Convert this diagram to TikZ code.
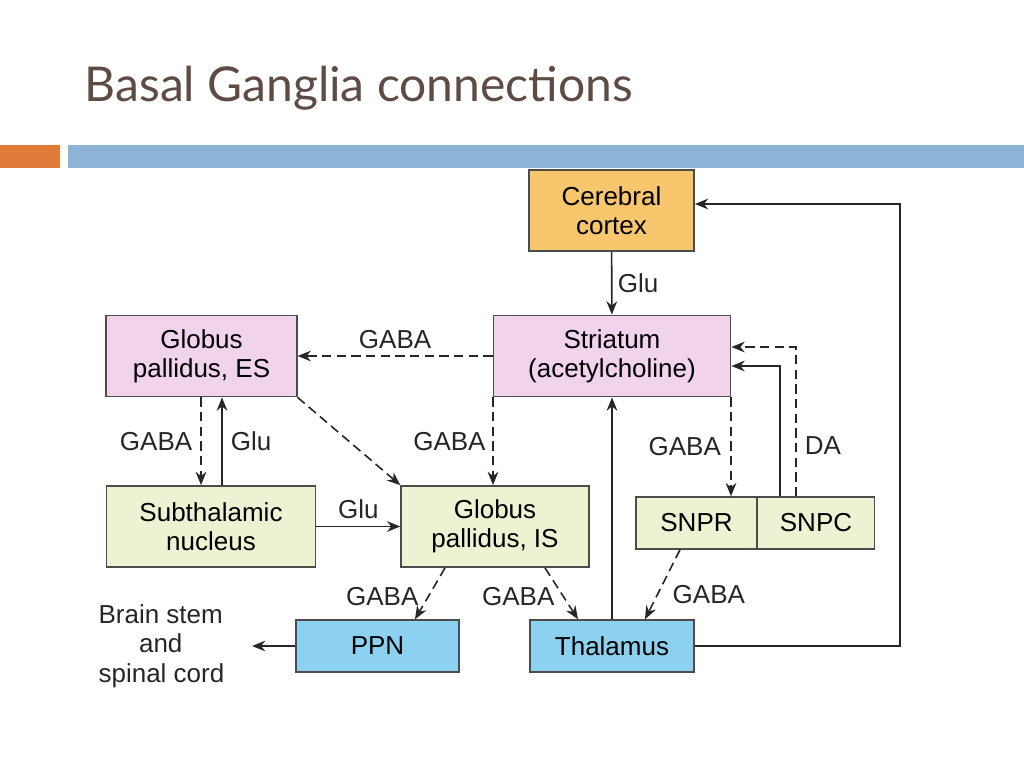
\documentclass[tikz,border=0pt]{standalone}
\usepackage{fontspec}
\setmainfont{Liberation Sans}
\newfontfamily\titlefont{Lato}
\usetikzlibrary{arrows.meta}
\definecolor{ttl}{HTML}{5E4B43}
\definecolor{obar}{HTML}{E07B39}
\definecolor{bbar}{HTML}{8DB3D6}
\definecolor{corf}{HTML}{F8C66C}
\definecolor{pnk}{HTML}{F1D3EC}
\definecolor{grn}{HTML}{EFF1D3}
\definecolor{blu}{HTML}{8DD1F0}
\begin{document}
\begin{tikzpicture}[x=0.75pt,y=-0.75pt,
 box/.style={draw=black!70,line width=1.1pt,inner sep=0pt,align=center,font=\fontsize{19.5}{22}\selectfont},
 lbl/.style={font=\fontsize{19.5}{22}\selectfont,inner sep=1pt,text=black!85},
 arr/.style={-{Stealth[length=10pt,width=8pt]},line width=1.2pt,black!85},
 dsh/.style={arr,dash pattern=on 7pt off 4pt}]
\useasboundingbox (0,0) rectangle (1024,768);
\node[anchor=base west,text=ttl,font=\titlefont\fontsize{36}{40}\selectfont] (title) at (80,101) {Basal Ganglia connections};
\fill[obar] (0,145) rectangle (60,168);
\fill[bbar] (68,145) rectangle (1024,168);
\node[box,fill=corf,minimum width=124pt,minimum height=61pt] (cc) at (611.5,210.5) {Cerebral\\cortex};
\node[box,fill=pnk,minimum width=178pt,minimum height=61pt] (st) at (612,356) {Striatum\\(acetylcholine)};
\node[box,fill=pnk,minimum width=143pt,minimum height=61pt] (ge) at (201.5,356) {Globus\\pallidus, ES};
\node[box,fill=grn,minimum width=157pt,minimum height=61pt] (sn) at (211,526.5) {Subthalamic\\nucleus};
\node[box,fill=grn,minimum width=141pt,minimum height=61pt] (gi) at (495,526.5) {Globus\\pallidus, IS};
\node[box,fill=grn,minimum width=91pt,minimum height=39pt] (pr) at (696.5,523) {SNPR};
\node[box,fill=grn,minimum width=88pt,minimum height=39pt] (pc) at (816,523) {SNPC};
\node[box,fill=blu,minimum width=122pt,minimum height=39pt] (pp) at (377.5,646) {PPN};
\node[box,fill=blu,minimum width=123pt,minimum height=39pt] (th) at (612,646) {Thalamus};
\node[lbl,align=left,anchor=west] (bs) at (97,646) {Brain stem\\\quad\ \ and\\spinal cord};
\coordinate (bse) at (252,646);
% arrows
\draw[arr] (cc) -- (st) node[lbl,pos=0.5,right=3pt] {Glu};
\draw[dsh] (st) -- (ge) node[lbl,midway,above=4pt] {GABA};
\draw[dsh] (ge.south -| 201,0) -- (sn.north -| 201,0) node[lbl,midway,left=5pt] {GABA};
\draw[arr] (sn.north -| 222,0) -- (ge.south -| 222,0) node[lbl,midway,right=5pt] {Glu};
\draw[dsh] (ge.south east) -- (gi.north west);
\draw[dsh] (st.south -| 493,0) -- (gi.north -| 493,0) node[lbl,midway,left=4pt] {GABA};
\draw[arr] (sn) -- (gi) node[lbl,midway,above=4pt] {Glu};
\draw[dsh] (st.south -| 731,0) -- (pr.north -| 731,0) node[lbl,pos=0.5,left=6pt] {GABA};
\draw[arr] (pc.north -| 780,0) |- (st.east |- 0,366);
\draw[dsh] (pc.north -| 796,0) |- (st.east |- 0,347) node[lbl,pos=0.17,right=5pt] {DA};
\draw[dsh] (gi.south -| 445,0) -- (pp.north -| 415,0) node[lbl,pos=0.55,left=6pt] {GABA};
\draw[dsh] (gi.south -| 545,0) -- (th.north -| 578,0) node[lbl,pos=0.55,left=5pt] {GABA};
\draw[dsh] (pr.south -| 680,0) -- (th.north -| 645,0) node[lbl,pos=0.65,right=10pt] {GABA};
\draw[arr] (th) -- (st);
\draw[arr] (th.east) -- (900,646) |- (cc.east |- 0,204);
\draw[arr] (pp) -- (bse);
\end{tikzpicture}
\end{document}
